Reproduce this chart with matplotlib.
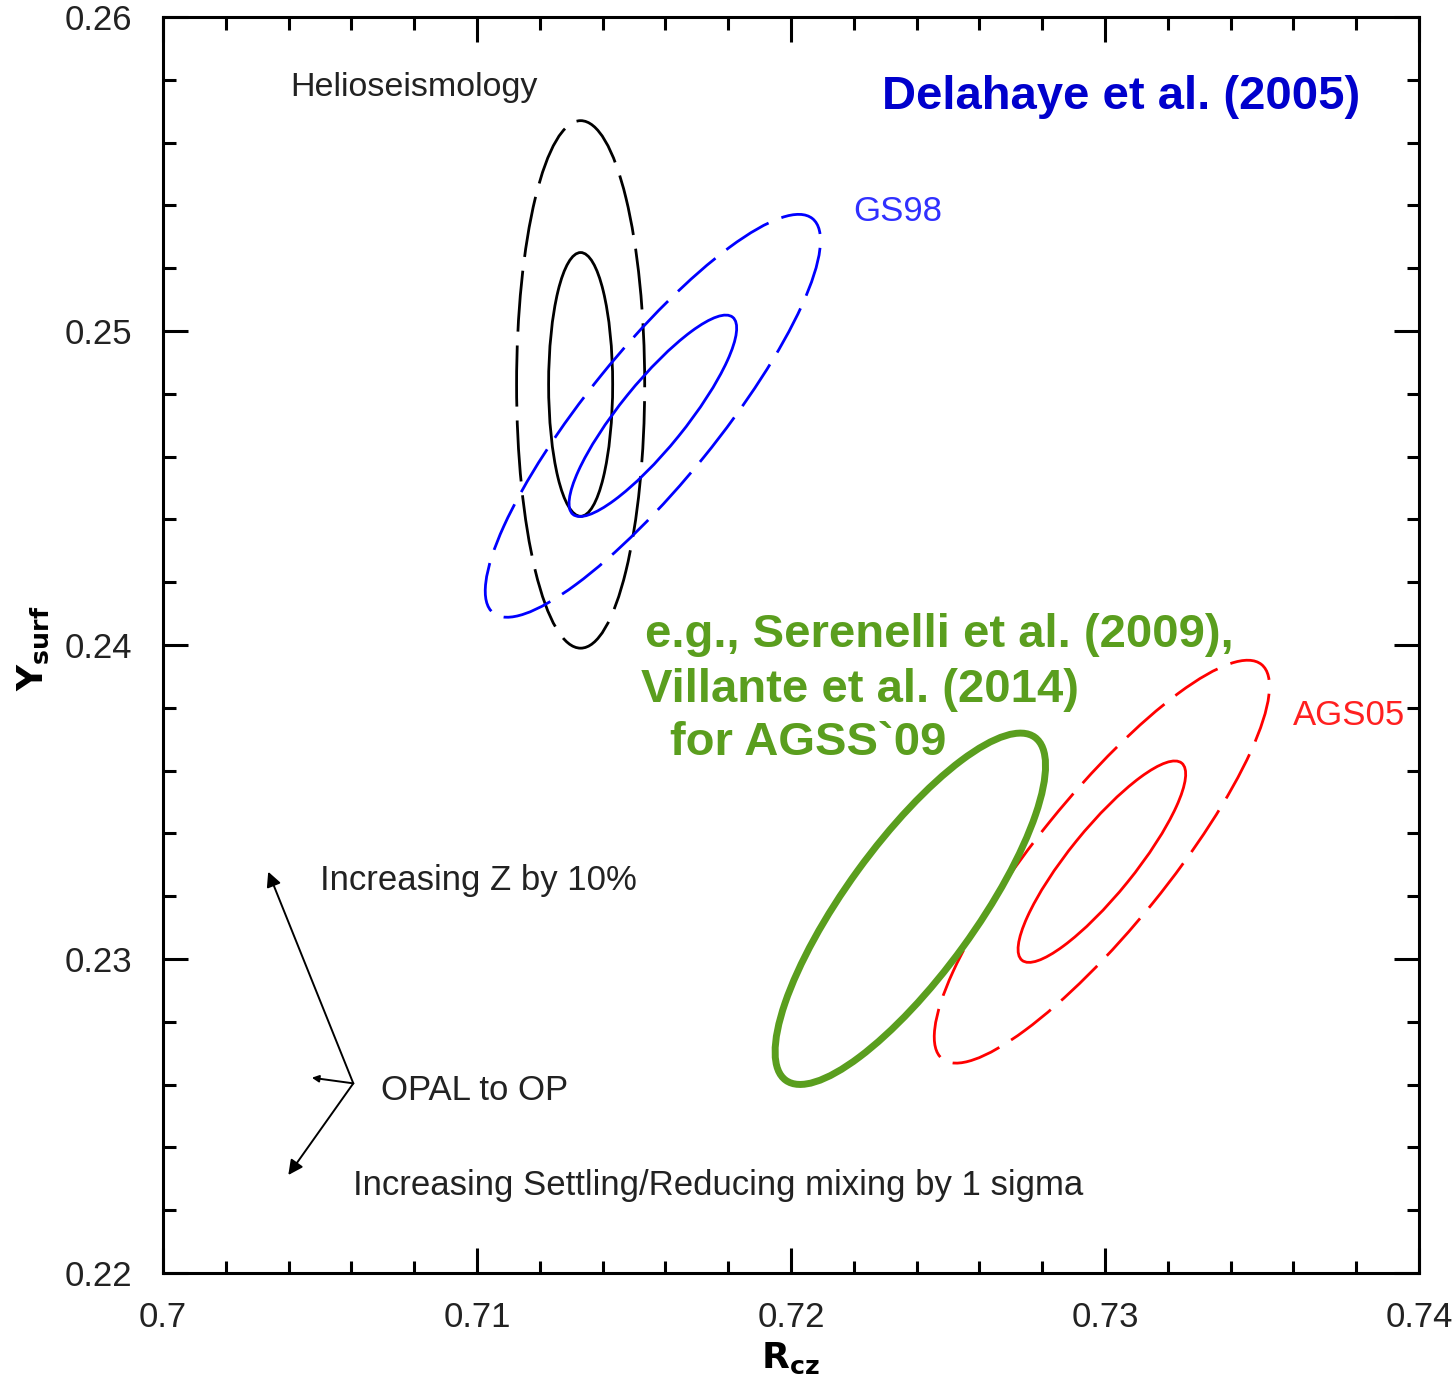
import matplotlib
matplotlib.use('Agg')
import matplotlib.pyplot as plt
from matplotlib.patches import Ellipse
from matplotlib.ticker import MultipleLocator, FuncFormatter

plt.rcParams['font.family'] = ['Liberation Sans', 'DejaVu Sans']

# ====================== Data ======================
# 2-sigma contours in the (R_cz, Y_surf) plane: centre, semi-axes, tilt (deg)
contour_names = ['Helioseismology', 'GS98', 'AGS05', 'AGSS09']
center_x = [0.7133, 0.7156, 0.7299, 0.7238]
center_y = [0.2483, 0.2473, 0.2331, 0.2316]
semi_major = [0.0084, 0.00808, 0.00808, 0.00675]
semi_minor = [0.00204, 0.00209, 0.00209, 0.00207]
tilt = [90.0, 51.0, 51.0, 54.0]

# arrows for the effect of input changes, all from one origin
arrow_origin = (0.70606, 0.22604)
arrow_tips = {
    'z10': (0.70335, 0.23278),
    'settling': (0.70399, 0.22312),
    'opal_op': (0.70474, 0.22622),
}

x_ticks = [0.7, 0.71, 0.72, 0.73, 0.74]
y_ticks = [0.22, 0.23, 0.24, 0.25, 0.26]

GREEN = '#5a9e1e'
TEXT = '#222222'

# ====================== Figure ======================
fig = plt.figure(figsize=(14.53, 13.74), dpi=100)
ax = fig.add_axes([0.1122, 0.0735, 0.8644, 0.9141])
ax.set_xlim(x_ticks[0], x_ticks[-1])
ax.set_ylim(y_ticks[0], y_ticks[-1])


def add_ellipse(i, scale, color, lw, ls):
    e = Ellipse((center_x[i], center_y[i]), 2 * semi_major[i] * scale, 2 * semi_minor[i] * scale,
                angle=tilt[i], facecolor='none', edgecolor=color, linewidth=lw, linestyle=ls)
    ax.add_patch(e)


# Helioseismology (black), GS98 (blue), AGS05 (red): 1 sigma solid, 2 sigma dashed
add_ellipse(0, 1.0, 'black', 2.0, (0, (22, 5)))
add_ellipse(0, 0.5, 'black', 2.0, '-')
add_ellipse(1, 1.0, '#0000ff', 2.0, (0, (18, 5)))
add_ellipse(1, 0.5, '#0000ff', 2.0, '-')
add_ellipse(2, 1.0, '#ff0000', 2.0, (0, (18, 5)))
add_ellipse(2, 0.5, '#ff0000', 2.0, '-')
# AGSS09 contour
add_ellipse(3, 0.5 * 2, GREEN, 5.0, '-')

# ====================== Arrows ======================
for key, tip in arrow_tips.items():
    ms = 10 if key == 'opal_op' else 22
    ax.annotate('', xy=tip, xytext=arrow_origin,
                arrowprops=dict(arrowstyle='-|>', color='black', lw=1.4,
                                mutation_scale=ms, shrinkA=0, shrinkB=0))

# ====================== Labels ======================
ax.text(0.70404, 0.25748, 'Helioseismology', fontsize=24.5, color=TEXT)
ax.text(0.73812, 0.25707, 'Delahaye et al. (2005)', fontsize=34, color='#0000cc',
        fontweight='bold', ha='right')
ax.text(0.72197, 0.2535, 'GS98', fontsize=25, color='#3030ff')
ax.text(0.73599, 0.23745, 'AGS05', fontsize=25, color='#ff2020')
ax.text(0.71535, 0.23994, 'e.g., Serenelli et al. (2009),', fontsize=34, color=GREEN, fontweight='bold')
ax.text(0.71522, 0.23818, 'Villante et al. (2014)', fontsize=34, color=GREEN, fontweight='bold')
ax.text(0.71615, 0.2365, 'for AGSS`09', fontsize=34, color=GREEN, fontweight='bold')
ax.text(0.705, 0.2322, 'Increasing Z by 10%', fontsize=25, color=TEXT)
ax.text(0.70694, 0.22551, 'OPAL to OP', fontsize=25, color=TEXT)
ax.text(0.70605, 0.22248, 'Increasing Settling/Reducing mixing by 1 sigma', fontsize=25, color=TEXT)

# ====================== Axes ======================
ax.xaxis.set_major_locator(MultipleLocator(0.01))
ax.xaxis.set_minor_locator(MultipleLocator(0.002))
ax.yaxis.set_major_locator(MultipleLocator(0.01))
ax.yaxis.set_minor_locator(MultipleLocator(0.002))
fmt = FuncFormatter(lambda v, pos: '%g' % round(v, 4))
ax.xaxis.set_major_formatter(fmt)
ax.yaxis.set_major_formatter(fmt)
ax.tick_params(which='both', direction='in', top=True, right=True, width=2.2,
               labelsize=25, labelcolor=TEXT)
ax.tick_params(which='major', length=18)
ax.tick_params(which='minor', length=9)
ax.tick_params(axis='y', pad=22)
ax.tick_params(axis='x', pad=20)
for s in ax.spines.values():
    s.set_linewidth(2.2)

fig.text(33 / 1453, 1 - 648 / 1374, r'$\mathbf{Y_{surf}}$', rotation=90, fontsize=26,
         ha='center', va='center', family='DejaVu Serif')
fig.text(790 / 1453, 1 - 1358 / 1374, r'$\mathbf{R_{cz}}$', fontsize=26,
         ha='center', va='center', family='DejaVu Serif')

fig.savefig('out.png', dpi=100)
